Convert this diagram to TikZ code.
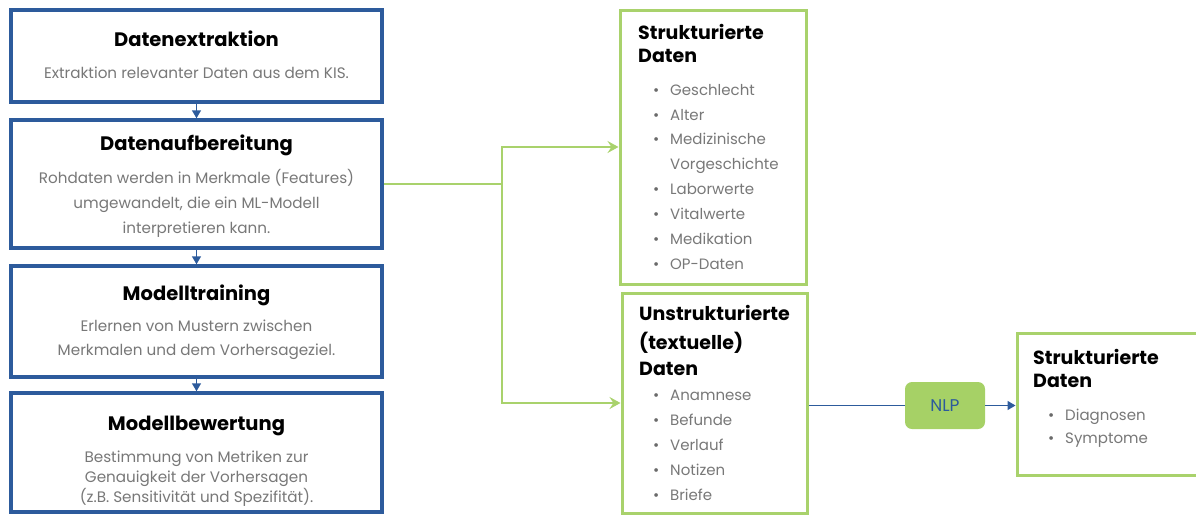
\documentclass[tikz,border=0pt]{standalone}
\usepackage{fontspec}
\setmainfont{Poppins}
\usetikzlibrary{arrows.meta}
\definecolor{bblue}{HTML}{2D5B9C}
\definecolor{lgreen}{HTML}{A9D26C}
\definecolor{nlpfill}{HTML}{A6D166}
\definecolor{txtgray}{HTML}{787878}
\definecolor{dotgray}{HTML}{6A6A6A}
\newcommand\bulit{\llap{\textcolor{dotgray}{\textbullet}\hspace{11pt}}}
\begin{document}
\begin{tikzpicture}[x=1pt,y=-1pt,
  stage/.style={draw=bblue,line width=3.5pt,fill=white,minimum width=371pt,inner sep=0pt},
  dbox/.style={draw=lgreen,line width=3pt,fill=white,inner sep=0pt},
  ttl/.style={font=\fontsize{19.5}{22}\selectfont\bfseries,anchor=base,inner sep=0pt},
  body/.style={font=\fontsize{15.2}{18}\selectfont,text=txtgray,anchor=base,inner sep=0pt},
  hd/.style={font=\fontsize{19}{22}\selectfont\bfseries,anchor=base west,inner sep=0pt},
  item/.style={font=\fontsize{15}{18}\selectfont,text=txtgray,anchor=base west,inner sep=0pt},
  flow/.style={draw=bblue,line width=1.5pt,-{Triangle[length=8pt,width=9pt]}},
  bline/.style={draw=bblue,line width=1.4pt},
  gline/.style={draw=lgreen,line width=1.8pt},
  garrow/.style={gline,-{Stealth[length=11pt,width=12pt,inset=4pt]}},
]
\useasboundingbox (0,0) rectangle (1196,515);
\clip (0,0) rectangle (1196,515);

% left pipeline boxes
\node[stage,minimum height=92pt]  (s1) at (196.5,56) {};
\node[stage,minimum height=128pt] (s2) at (196.5,184) {};
\node[stage,minimum height=111pt] (s3) at (196.5,321.5) {};
\node[stage,minimum height=119pt] (s4) at (196.5,452.5) {};

\node[ttl]  (t1)  at (196.5,46) {Datenextraktion};
\node[body] (b1)  at (196.5,78) {Extraktion relevanter Daten aus dem KIS.};

\node[ttl]  (t2)  at (196.5,150) {Datenaufbereitung};
\node[body] (b2a) at (196.5,183) {Rohdaten werden in Merkmale (Features)};
\node[body] (b2b) at (196.5,208) {umgewandelt, die ein ML-Modell};
\node[body] (b2c) at (196.5,233) {interpretieren kann.};

\node[ttl]  (t3)  at (196.5,300) {Modelltraining};
\node[body] (b3a) at (196.5,331) {Erlernen von Mustern zwischen};
\node[body] (b3b) at (196.5,355) {Merkmalen und dem Vorhersageziel.};

\node[ttl]  (t4)  at (196.5,430) {Modellbewertung};
\node[body] (b4a) at (196.5,462) {Bestimmung von Metriken zur};
\node[body] (b4b) at (196.5,482) {Genauigkeit der Vorhersagen};
\node[body] (b4c) at (196.5,502) {(z.B. Sensitivität und Spezifität).};

\draw[flow] (s1) -- (s2);
\draw[flow] (s2) -- (s3);
\draw[flow] (s3) -- (s4);

% data boxes
\node[dbox,minimum width=186pt,minimum height=274pt] (gA) at (713,147) {};
\node[dbox,minimum width=185pt,minimum height=220pt] (gB) at (714.5,403) {};
\node[dbox,minimum width=203pt,minimum height=142pt] (fin) at (1118.5,404) {};
\node[fill=nlpfill,rounded corners=7pt,minimum width=80pt,minimum height=47pt,inner sep=0pt,
      text=bblue,font=\fontsize{17}{20}\selectfont] (nlp) at (945,405.5) {NLP};

\node[hd] (gAh1) at (638,39) {Strukturierte};
\node[hd] (gAh2) at (638,62) {Daten};
\node[item] (gA1) at (670,95)  {\bulit Geschlecht};
\node[item] (gA2) at (670,120) {\bulit Alter};
\node[item] (gA3) at (670,144) {\bulit Medizinische};
\node[item] (gA4) at (670,169) {Vorgeschichte};
\node[item] (gA5) at (670,194) {\bulit Laborwerte};
\node[item] (gA6) at (670,219) {\bulit Vitalwerte};
\node[item] (gA7) at (670,244) {\bulit Medikation};
\node[item] (gA8) at (670,269) {\bulit OP-Daten};

\node[hd] (gBh1) at (639,320) {Unstrukturierte};
\node[hd] (gBh2) at (639,349) {(textuelle)};
\node[hd] (gBh3) at (639,375) {Daten};
\node[item] (gB1) at (670,400) {\bulit Anamnese};
\node[item] (gB2) at (670,425) {\bulit Befunde};
\node[item] (gB3) at (670,450) {\bulit Verlauf};
\node[item] (gB4) at (670,475) {\bulit Notizen};
\node[item] (gB5) at (670,500) {\bulit Briefe};

\node[hd] (fh1) at (1033,364) {Strukturierte};
\node[hd] (fh2) at (1033,387) {Daten};
\node[item] (f1) at (1065,420) {\bulit Diagnosen};
\node[item] (f2) at (1065,443) {\bulit Symptome};

% connectors
\coordinate (split) at (502,184);
\draw[gline] (s2.east) -- (split);
\draw[garrow] (split) |- (gA.west);
\draw[garrow] (split) |- (gB.west);
\draw[bline] (gB.east |- nlp.west) -- (nlp.west);
\draw[flow] (nlp.east) -- (fin.west |- nlp.east);
\end{tikzpicture}
\end{document}
